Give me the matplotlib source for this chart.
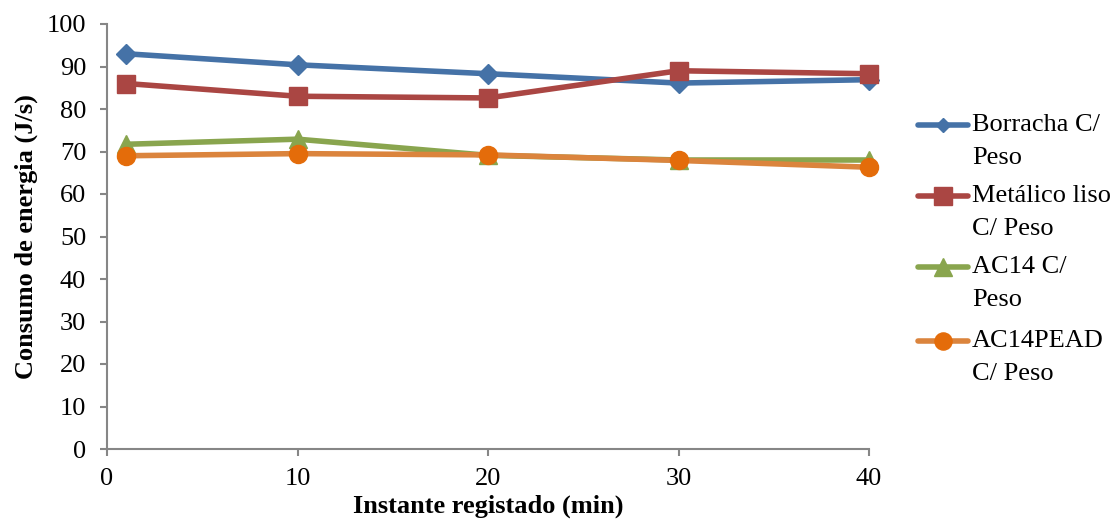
import matplotlib
matplotlib.use("Agg")
import matplotlib.pyplot as plt
from matplotlib.lines import Line2D

# Measurement instants (min)
instantes = [1, 10, 20, 30, 40]

# Energy consumption (J/s) per belt type
borracha = [93.0, 90.4, 88.3, 86.1, 86.9]
metalico = [86.0, 83.0, 82.6, 89.0, 88.3]
ac14 = [71.7, 72.9, 69.1, 68.0, 68.0]
ac14pead = [69.0, 69.5, 69.2, 67.9, 66.3]

series_labels = [
    ["Borracha C/", "Peso"],
    ["Metálico liso", "C/ Peso"],
    ["AC14 C/", "Peso"],
    ["AC14PEAD", "C/ Peso"],
]

x_ticks = [0, 10, 20, 30, 40]
y_ticks = [0, 10, 20, 30, 40, 50, 60, 70, 80, 90, 100]

plt.rcParams["font.family"] = ["Liberation Serif", "DejaVu Serif"]

W, H = 1114, 525
fig = plt.figure(figsize=(W / 100, H / 100), dpi=100)
ax = fig.add_axes([107 / W, (H - 449) / H, (869 - 107) / W, (449 - 24) / H])

styles = [
    dict(color="#4572A7", marker="D", ms=9.8, mfc="#4572A7", mec="#4572A7"),
    dict(color="#AA4643", marker="s", ms=13.5, mfc="#AA4643", mec="#AA4643"),
    dict(color="#89A54E", marker="^", ms=13.5, mfc="#89A54E", mec="#89A54E"),
    dict(color="#DB843D", marker="o", ms=13.0, mfc="#E46C0A", mec="#E46C0A"),
]
legend_marker_scale = [0.7, 0.95, 0.95, 0.95]
data = [borracha, metalico, ac14, ac14pead]

for vals, st in zip(data, styles):
    ax.plot(instantes, vals, lw=4.0, solid_capstyle="round", clip_on=False, **st)

ax.set_xlim(0, 40)
ax.set_ylim(0, 100)
ax.set_xticks(x_ticks)
ax.set_yticks(y_ticks)

axis_gray = "#868686"
for side in ("top", "right"):
    ax.spines[side].set_visible(False)
for side in ("left", "bottom"):
    ax.spines[side].set_color(axis_gray)
    ax.spines[side].set_linewidth(1.5)
ax.tick_params(axis="both", colors=axis_gray, labelcolor="black", labelsize=19,
               length=5, width=1.5, direction="out")
ax.tick_params(axis="y", pad=10)
ax.tick_params(axis="x", pad=9)

ax.set_xlabel("Instante registado (min)", fontsize=19, fontweight="bold", labelpad=3)
ax.set_ylabel("Consumo de energia (J/s)", fontsize=19, fontweight="bold", labelpad=6)

# Legend drawn to the right of the plot, handle aligned with the first text line
legend_y = [125, 196, 267, 341]
for (l1, l2), st, sc, yp in zip(series_labels, styles, legend_marker_scale, legend_y):
    yf = 1 - yp / H
    fig.add_artist(Line2D([918 / W, 968 / W], [yf, yf], lw=4.0, color=st["color"],
                          solid_capstyle="round", transform=fig.transFigure))
    fig.add_artist(Line2D([943 / W], [yf], marker=st["marker"], ms=st["ms"] * sc,
                          mfc=st["mfc"], mec=st["mec"], lw=0, transform=fig.transFigure))
    fig.text(972 / W, yf, l1, fontsize=19, va="center", ha="left")
    fig.text(972 / W, 1 - (yp + 33) / H, l2, fontsize=19, va="center", ha="left")

fig.savefig("out.png", dpi=100)
